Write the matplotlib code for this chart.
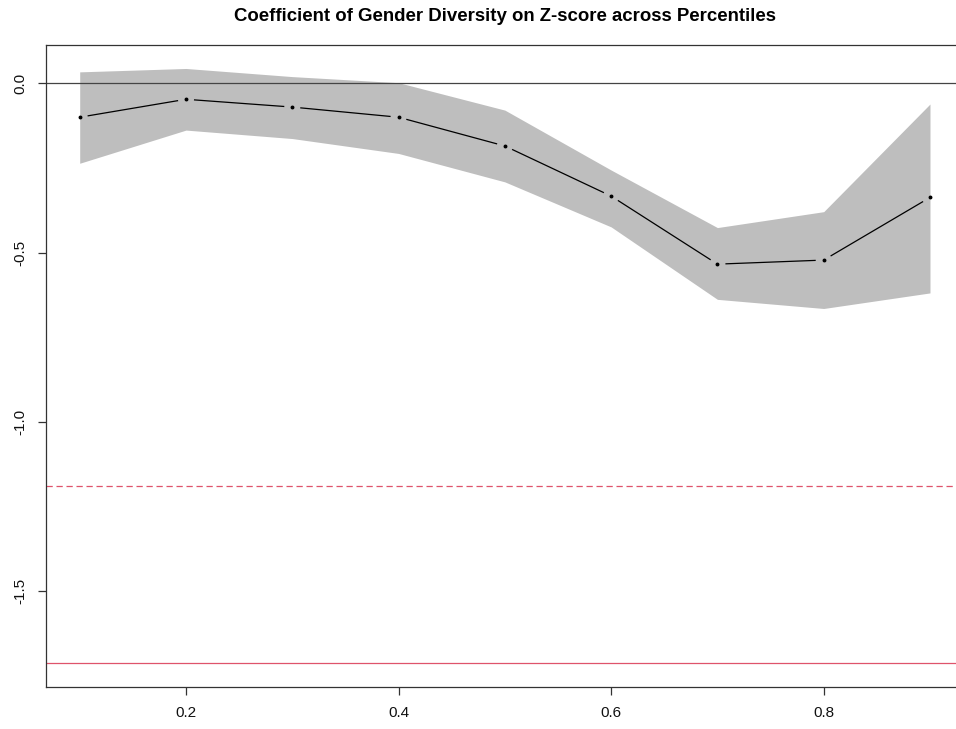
import numpy as np
import matplotlib
matplotlib.use("Agg")
import matplotlib.pyplot as plt

plt.rcParams['font.family'] = ['Liberation Sans', 'DejaVu Sans']

# quantile regression results for the gender diversity coefficient
taus = [0.1, 0.2, 0.3, 0.4, 0.5, 0.6, 0.7, 0.8, 0.9]
coef = [-0.100, -0.047, -0.070, -0.100, -0.185, -0.333, -0.534, -0.522, -0.337]
ci_upper = [0.034, 0.044, 0.020, 0.002, -0.079, -0.256, -0.426, -0.379, -0.061]
ci_lower = [-0.236, -0.138, -0.163, -0.207, -0.291, -0.424, -0.638, -0.665, -0.619]

# OLS estimate and its confidence bound
ols_coef = -1.712
ols_bound = -1.190

xticks = [0.2, 0.4, 0.6, 0.8]
yticks = [0.0, -0.5, -1.0, -1.5]

W, H = 956, 729
fig = plt.figure(figsize=(W / 100, H / 100), dpi=100)
ax = fig.add_axes([45.7 / W, 42.3 / H, (964 - 45.7) / W, (686.7 - 44.7) / H])

# R-style axis limits (4% padding on each side)
xr = max(taus) - min(taus)
ax.set_xlim(min(taus) - 0.04 * xr, max(taus) + 0.04 * xr)
ymin, ymax = min(ci_lower + [ols_coef]), max(ci_upper)
yr = ymax - ymin
ax.set_ylim(ymin - 0.04 * yr, ymax + 0.04 * yr)
ax.set_autoscale_on(False)

ax.fill_between(taus, ci_lower, ci_upper, color='#BEBEBE', linewidth=0, zorder=1)
ax.axhline(0, color='#444444', linewidth=0.9, zorder=2)
ax.axhline(ols_coef, color='#DF536B', linewidth=0.9, zorder=2)
ax.axhline(ols_bound, color='#DF536B', linewidth=0.9, linestyle=(0, (5, 3)), zorder=2)

# points joined by lines with small gaps around each point (type = "b")
x0, x1 = ax.get_xlim()
y0, y1 = ax.get_ylim()
sx = (964 - 45.7) / (x1 - x0)      # pixels per x unit
sy = (686.7 - 44.7) / (y1 - y0)    # pixels per y unit
gap = 8.0
for i in range(len(taus) - 1):
    dx = (taus[i + 1] - taus[i]) * sx
    dy = (coef[i + 1] - coef[i]) * sy
    n = np.hypot(dx, dy)
    f = gap / n
    xa = taus[i] + f * (taus[i + 1] - taus[i])
    ya = coef[i] + f * (coef[i + 1] - coef[i])
    xb = taus[i + 1] - f * (taus[i + 1] - taus[i])
    yb = coef[i + 1] - f * (coef[i + 1] - coef[i])
    ax.plot([xa, xb], [ya, yb], color='black', linewidth=0.9,
            solid_capstyle='butt', zorder=3)
ax.plot(taus, coef, linestyle='none', marker='o', markersize=1.8,
        color='black', zorder=4)

ax.set_xticks(xticks)
ax.set_xticklabels([f'{t:.1f}' for t in xticks])
ax.set_yticks(yticks)
ax.set_yticklabels([f'{t:.1f}' for t in yticks], rotation=90, va='center')
ax.tick_params(axis='both', length=6, width=0.9, color='#333333',
               labelsize=11, labelcolor='#111111')
ax.tick_params(axis='x', pad=8)
ax.tick_params(axis='y', pad=7)
for s in ax.spines.values():
    s.set_color('#333333')
    s.set_linewidth(0.9)

ax.set_title('Coefficient of Gender Diversity on Z-score across Percentiles',
             fontsize=13.4, fontweight='bold', pad=17)

fig.savefig('out.png', dpi=100)
